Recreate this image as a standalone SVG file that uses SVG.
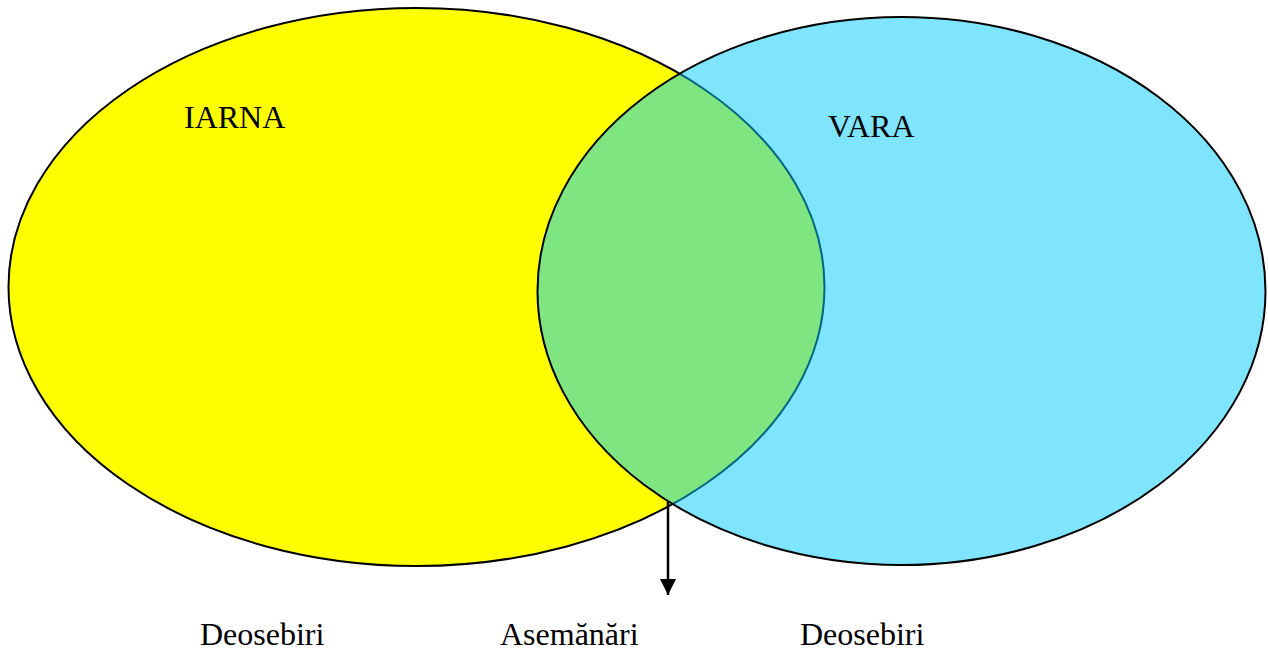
<svg xmlns="http://www.w3.org/2000/svg" width="1268" height="651" viewBox="0 0 1268 651">
<style>
text{font-family:"Liberation Serif","Times New Roman",serif;font-size:32px;fill:#000}
.ell{stroke:#000;stroke-width:2}
</style>
<defs>
<marker id="ah" viewBox="0 0 16 16" refX="16" refY="8" markerWidth="16" markerHeight="16" markerUnits="userSpaceOnUse" orient="auto">
<path d="M0,0 L16,8 L0,16 z" fill="#000"/>
</marker>
</defs>
<rect width="1268" height="651" fill="#fff"/>
<g id="iarna">
<ellipse class="ell" cx="416.5" cy="287" rx="408" ry="279" fill="#ffff00"/>
<text x="184" y="128">IARNA</text>
</g>
<g id="vara">
<ellipse class="ell" cx="901.5" cy="291" rx="364" ry="274" fill="#00cbff" fill-opacity="0.5"/>
<text x="828" y="137">VARA</text>
</g>
<g id="connectors">
<line x1="668" y1="501" x2="668" y2="595" stroke="#000" stroke-width="2.5" marker-end="url(#ah)"/>
</g>
<g id="labels">
<text x="200" y="645">Deosebiri</text>
<text x="500" y="645">Asemănări</text>
<text x="800" y="645">Deosebiri</text>
</g>
</svg>
